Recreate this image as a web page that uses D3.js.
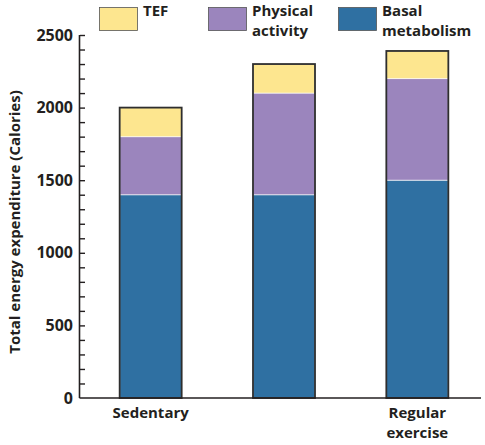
<!DOCTYPE html>
<html><head><meta charset="utf-8">
<script src="https://cdn.jsdelivr.net/npm/d3@7"></script>
<style>
body{margin:0;background:#fff;}
text{font-family:"Open Sans",sans-serif;font-weight:700;fill:#231f20;}
</style></head>
<body><svg id="c" width="485" height="445"></svg>
<script>
const categories = ["Sedentary", "Moderate", "Regular exercise"];
const categoryLabels = [["Sedentary"], [], ["Regular", "exercise"]];
const seriesNames = ["Basal metabolism", "Physical activity", "TEF"];
const basal = [1400, 1400, 1500];
const physical = [400, 700, 700];
const tef = [200, 200, 190];
const yTicks = [0, 500, 1000, 1500, 2000, 2500];
const colors = {"Basal metabolism":"#2f70a2","Physical activity":"#9b85bd","TEF":"#fde68f"};

const svg = d3.select("#c");
const x = d3.scaleBand().domain(categories).range([84, 484]).paddingInner(0.535).paddingOuter(0.2675);
const y = d3.scaleLinear().domain([0, 2500]).range([398, 35]);

const rows = categories.map((c,i)=>({cat:c, "Basal metabolism":basal[i], "Physical activity":physical[i], "TEF":tef[i]}));
const stack = d3.stack().keys(seriesNames)(rows);

const g = svg.append("g");
stack.forEach(layer=>{
  g.selectAll(null).data(layer).join("rect")
    .attr("x", d=>x(d.data.cat)).attr("width", x.bandwidth())
    .attr("y", d=>y(d[1])).attr("height", d=>y(d[0])-y(d[1]))
    .attr("fill", colors[layer.key]).attr("stroke","#ffffff").attr("stroke-opacity",0.6).attr("stroke-width",1);
});
// bar outlines
g.selectAll(null).data(rows).join("rect")
  .attr("x", d=>x(d.cat)).attr("width", x.bandwidth())
  .attr("y", d=>y(d["Basal metabolism"]+d["Physical activity"]+d["TEF"]))
  .attr("height", d=>y(0)-y(d["Basal metabolism"]+d["Physical activity"]+d["TEF"]))
  .attr("fill","none").attr("stroke","#2e2e2e").attr("stroke-width",1.8);

// y axis
const yAxis = d3.axisLeft(y).tickValues(d3.range(0,2501,100)).tickSize(-5).tickFormat("");
const ya = svg.append("g").attr("transform","translate(80,0)").call(yAxis);
ya.select(".domain").attr("stroke","#231f20").attr("stroke-width",1.6).attr("d","M-0.5,35V398");
ya.selectAll(".tick line").attr("stroke","#231f20").attr("stroke-width",1.4);
ya.selectAll(".tick").filter(d=>d===0).select("line").remove();
svg.append("g").selectAll("text").data(yTicks).join("text")
  .attr("x",73).attr("y",d=>y(d)+5.5).attr("text-anchor","end").attr("font-size",16).text(d=>d);

// x axis
const xAxis = d3.axisBottom(x).tickSize(0).tickFormat("");
const xa = svg.append("g").attr("transform","translate(0,398)").call(xAxis);
xa.select(".domain").attr("stroke","#231f20").attr("stroke-width",1.6).attr("d","M79.5,0H481");
categories.forEach((c,i)=>{
  categoryLabels[i].forEach((t,j)=>{
    svg.append("text").attr("x", x(c)+x.bandwidth()/2).attr("y", 418+j*19.5)
      .attr("text-anchor","middle").attr("font-size",15).text(t);
  });
});

// y label
svg.append("text").attr("transform","translate(20,222) rotate(-90)").attr("text-anchor","middle")
  .attr("font-size",15).text("Total energy expenditure (Calories)");

// legend
const legend = [
  {key:"TEF", bx:99, lines:["TEF"]},
  {key:"Physical activity", bx:208, lines:["Physical","activity"]},
  {key:"Basal metabolism", bx:338, lines:["Basal","metabolism"]}
];
legend.forEach(l=>{
  svg.append("rect").attr("x",l.bx+0.5).attr("y",7.5).attr("width",38).attr("height",23)
    .attr("fill",colors[l.key]).attr("stroke","#555").attr("stroke-width",0.8);
  l.lines.forEach((t,j)=>{
    svg.append("text").attr("x",l.bx+44).attr("y",16+j*19.5).attr("font-size",15).text(t);
  });
});
</script></body></html>
